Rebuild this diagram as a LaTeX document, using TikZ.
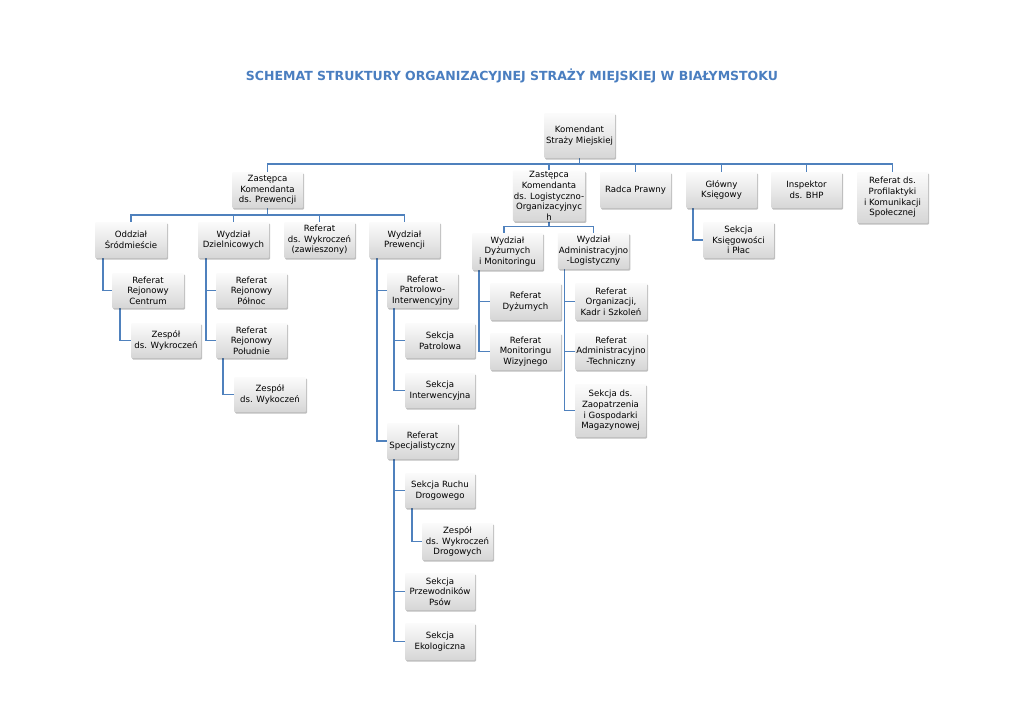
\documentclass[tikz,border=0pt]{standalone}
\usepackage{fontspec}
\usepackage{graphicx}
\setmainfont{DejaVu Sans}
\usetikzlibrary{shadows}
\definecolor{lineblue}{HTML}{4F81BD}
\definecolor{titleblue}{HTML}{4A7EC0}
\pgfdeclarelayer{bg}
\pgfsetlayers{bg,main}
\tikzset{
  bx/.style={top color=gray!3, bottom color=gray!32, draw=none, rounded corners=1pt,
    drop shadow={shadow xshift=1.2pt, shadow yshift=-1.5pt, opacity=0.25, fill=black},
    align=center, inner sep=1pt, font=\fontsize{8.6}{10.6}\selectfont},
  conn/.style={draw=lineblue, line width=1.6pt},
}
\newcommand{\bxnode}[6]{% name, x1, x2, y1, y2, text
  \node[bx, minimum width=#3pt-#2pt, minimum height=#5pt-#4pt] (#1) at ({(#2+#3)/2},{(#4+#5)/2}) {#6};}
\begin{document}
\begin{tikzpicture}[x=1pt,y=-1pt]
\useasboundingbox (0,0) rectangle (1024,725);
\node[text=titleblue] (title) at (512,76) {\resizebox{532pt}{!}{\bfseries SCHEMAT STRUKTURY ORGANIZACYJNEJ STRAŻY MIEJSKIEJ W BIAŁYMSTOKU}};
\bxnode{kom}{544}{615}{113}{158}{Komendant\\Straży Miejskiej}
\bxnode{zp}{232}{303}{172}{208}{Zastępca\\Komendanta\\ds. Prewencji}
\bxnode{zl}{514}{584}{172}{220}{Zastępca\\Komendanta\\ds. Logistyczno-\\Organizacyjnyc\\h}
\bxnode{rp}{600}{671}{172}{208}{Radca Prawny}
\bxnode{gk}{686}{757}{172}{208}{Główny\\Księgowy}
\bxnode{bhp}{771}{842}{172}{208}{Inspektor\\ds. BHP}
\bxnode{prof}{857}{928}{172}{223}{Referat ds.\\Profilaktyki\\i Komunikacji\\Społecznej}
\bxnode{skp}{703}{774}{222}{258}{Sekcja\\Księgowości\\i Płac}
\bxnode{odd}{95}{167}{222}{258}{Oddział\\Śródmieście}
\bxnode{wdz}{198}{269}{222}{258}{Wydział\\Dzielnicowych}
\bxnode{rwyk}{284}{355}{222}{258}{Referat\\ds. Wykroczeń\\(zawieszony)}
\bxnode{wp}{369}{440}{222}{258}{Wydział\\Prewencji}
\bxnode{rrc}{112}{184}{273}{308}{Referat\\Rejonowy\\Centrum}
\bxnode{zwc}{131}{201}{323}{358}{Zespół\\ds. Wykroczeń}
\bxnode{rrp}{216}{287}{273}{308}{Referat\\Rejonowy\\Północ}
\bxnode{rrs}{216}{287}{323}{358}{Referat\\Rejonowy\\Południe}
\bxnode{zwk}{234}{306}{377}{412}{Zespół\\ds. Wykoczeń}
\bxnode{rpi}{387}{458}{273}{308}{Referat\\Patrolowo-\\Interwencyjny}
\bxnode{sp}{405}{475}{323}{358}{Sekcja\\Patrolowa}
\bxnode{si}{405}{475}{373}{408}{Sekcja\\Interwencyjna}
\bxnode{rs}{387}{458}{423}{459}{Referat\\Specjalistyczny}
\bxnode{srd}{405}{475}{473}{508}{Sekcja Ruchu\\Drogowego}
\bxnode{zwd}{422}{493}{523}{560}{Zespół\\ds. Wykroczeń\\Drogowych}
\bxnode{spp}{405}{475}{573}{610}{Sekcja\\Przewodników\\Psów}
\bxnode{se}{405}{475}{623}{660}{Sekcja\\Ekologiczna}
\bxnode{wdm}{472}{543}{233}{270}{Wydział\\Dyżurnych\\i Monitoringu}
\bxnode{wal}{558}{629}{233}{269}{Wydział\\Administracyjno\\-Logistyczny}
\bxnode{rd}{490}{561}{283}{320}{Referat\\Dyżurnych}
\bxnode{rmw}{490}{561}{333}{370}{Referat\\Monitoringu\\Wizyjnego}
\bxnode{rok}{575}{647}{283}{320}{Referat\\Organizacji,\\Kadr i Szkoleń}
\bxnode{rat}{575}{647}{333}{370}{Referat\\Administracyjno\\-Techniczny}
\bxnode{sz}{575}{646}{384}{437}{Sekcja ds.\\Zaopatrzenia\\i Gospodarki\\Magazynowej}
\begin{pgfonlayer}{bg}
\fill[white] (0,0) rectangle (1024,725);
% top level bus
\foreach \c in {zp,zl,rp,gk,bhp,prof}
  \draw[conn] (kom.south) -- ++(0,-6pt) -| (\c.north);
% Zastepca Prewencji bus
\foreach \c in {odd,wdz,rwyk,wp}
  \draw[conn] (zp.south) -- ++(0,-7pt) -| (\c.north);
% Zastepca Logistyczno bus
\draw[conn] (zl.south) -- ++(0,-5pt) -| ([xshift=-3.5pt]wdm.north);
\draw[conn] (zl.south) -- ++(0,-5pt) -| (wal.north);
% elbows
\draw[conn] ([xshift=8pt]odd.south west) |- (rrc.west);
\draw[conn] ([xshift=8pt]rrc.south west) |- (zwc.west);
\draw[conn] ([xshift=8pt]wdz.south west) |- (rrp.west);
\draw[conn] ([xshift=8pt]wdz.south west) |- (rrs.west);
\draw[conn] ([xshift=7pt]rrs.south west) |- (zwk.west);
\draw[conn] ([xshift=8pt]wp.south west) |- (rpi.west);
\draw[conn] ([xshift=8pt]wp.south west) |- (rs.west);
\draw[conn] ([xshift=7pt]rpi.south west) |- (sp.west);
\draw[conn] ([xshift=7pt]rpi.south west) |- (si.west);
\draw[conn] ([xshift=7pt]rs.south west) |- (srd.west);
\draw[conn] ([xshift=7pt]rs.south west) |- (spp.west);
\draw[conn] ([xshift=7pt]rs.south west) |- (se.west);
\draw[conn] ([xshift=7pt]srd.south west) |- (zwd.west);
\draw[conn] ([xshift=7pt]wdm.south west) |- (rd.west);
\draw[conn] ([xshift=7pt]wdm.south west) |- (rmw.west);
\draw[conn] ([xshift=7pt]wal.south west) |- (rok.west);
\draw[conn] ([xshift=7pt]wal.south west) |- (rat.west);
\draw[conn] ([xshift=7pt]wal.south west) |- (sz.west);
\draw[conn] ([xshift=7pt]gk.south west) |- (skp.west);
\end{pgfonlayer}
\end{tikzpicture}
\end{document}
